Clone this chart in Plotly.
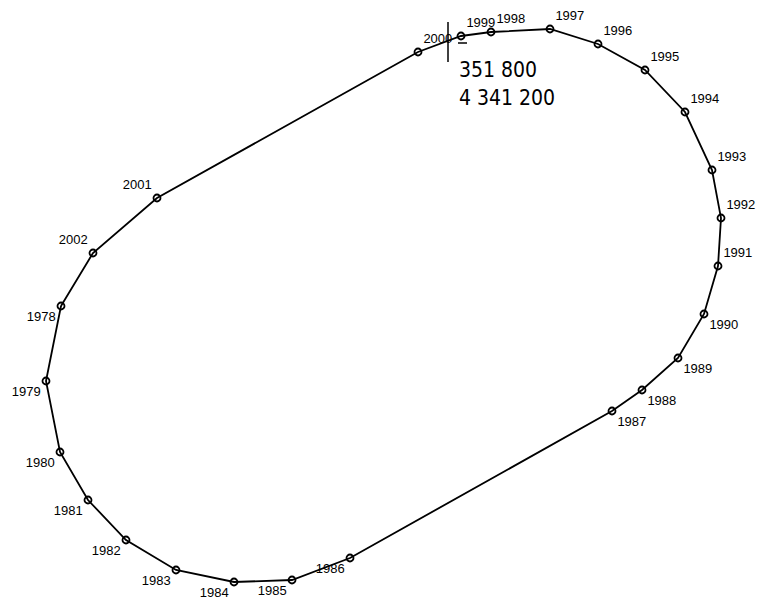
import plotly.graph_objects as go

# Year of each station on the loop
years = [1978, 1979, 1980, 1981, 1982, 1983, 1984, 1985, 1986, 1987, 1988, 1989,
         1990, 1991, 1992, 1993, 1994, 1995, 1996, 1997, 1998, 1999, 2000, 2001, 2002]
# Easting-like coordinate (plot units)
x_vals = [61, 46, 60, 88, 126, 176, 234, 292, 350, 612, 642, 678,
          704, 718, 721, 712, 685, 645, 598, 550, 491, 461, 418, 157, 93]
# Northing-like coordinate (plot units, downward)
y_vals = [306, 381, 452, 500, 540, 570, 582, 580, 558, 411, 390, 358,
          314, 266, 218, 170, 112, 70, 44, 29, 32, 36, 52, 198, 253]

# Reference cross and its coordinate labels
cross_x, cross_y = 448, 42
cross_labels = ["351 800", "4 341 200"]


def label_pos(yr):
    if yr <= 1986:
        return "bottom left"
    if yr <= 1990:
        return "bottom right"
    if yr <= 2000:
        return "top right"
    return "top left"


fig = go.Figure()

# closed loop line
fig.add_trace(go.Scatter(
    x=x_vals + [x_vals[0]], y=y_vals + [y_vals[0]],
    mode="lines", line=dict(color="black", width=1.8),
    hoverinfo="skip", showlegend=False))

# markers with year labels
fig.add_trace(go.Scatter(
    x=x_vals, y=y_vals, mode="markers+text",
    text=[str(y) for y in years],
    textposition=[label_pos(y) for y in years],
    textfont=dict(family="Liberation Sans, Arial", size=13, color="black"),
    marker=dict(symbol="circle-open", size=7, color="black", line=dict(width=1.8)),
    showlegend=False))

# crosshair
fig.add_shape(type="line", x0=cross_x, x1=cross_x, y0=cross_y - 20, y1=cross_y + 20,
              line=dict(color="black", width=1.5))
fig.add_shape(type="line", x0=cross_x + 10, x1=cross_x + 19, y0=cross_y + 1, y1=cross_y + 1,
              line=dict(color="black", width=1.5))

for i, t in enumerate(cross_labels):
    fig.add_annotation(x=cross_x + 9, y=cross_y + 28 + 28 * i, text=t, showarrow=False,
                       xanchor="left", yanchor="middle",
                       font=dict(family="DejaVu Sans Condensed, DejaVu Sans", size=21, color="black"))

fig.update_xaxes(range=[0, 763], visible=False, showgrid=False, zeroline=False)
fig.update_yaxes(range=[609, 0], visible=False, showgrid=False, zeroline=False)
fig.update_layout(width=763, height=609, margin=dict(l=0, r=0, t=0, b=0),
                  plot_bgcolor="white", paper_bgcolor="white")

fig.write_html("out.html", config={"displayModeBar": False},
               post_script="document.body.style.margin='0';document.body.style.overflow='hidden';")
